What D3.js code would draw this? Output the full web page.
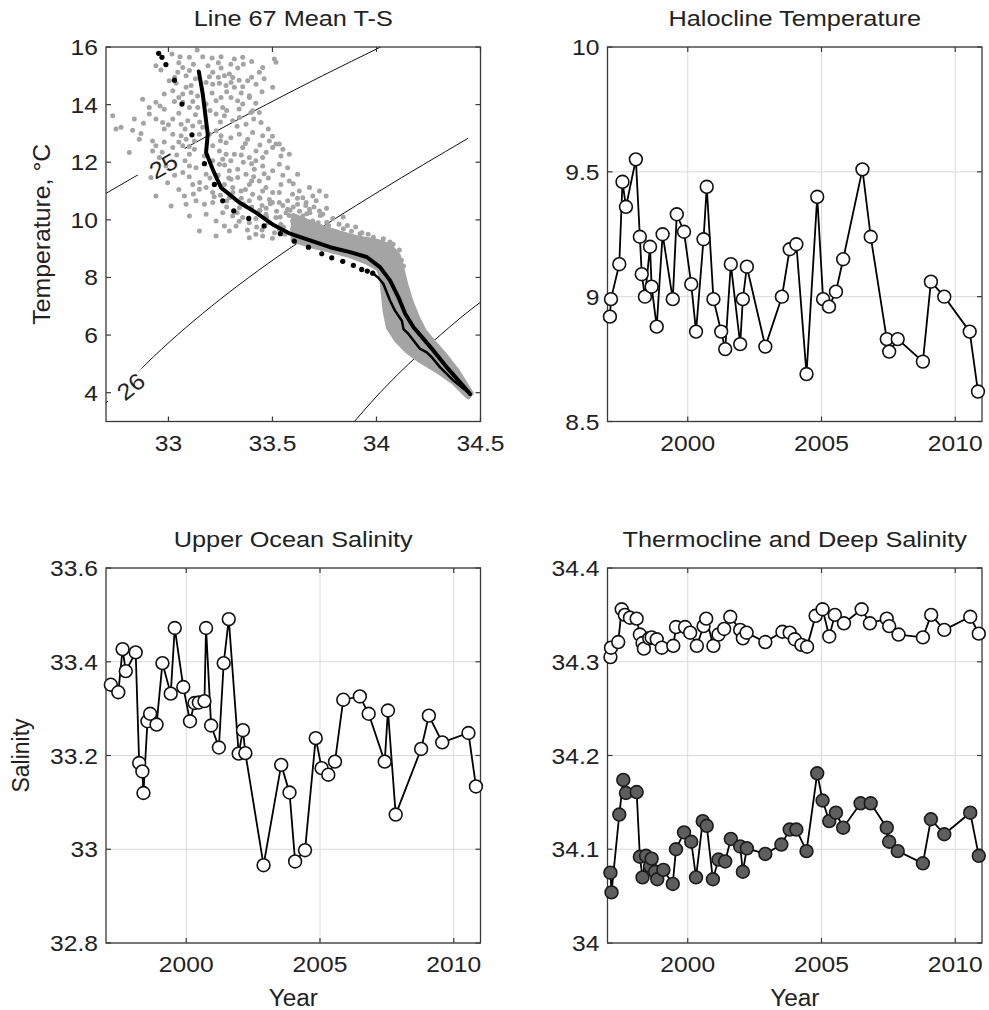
<!DOCTYPE html>
<html>
<head>
<meta charset="utf-8">
<script src="https://cdn.jsdelivr.net/npm/d3@7/dist/d3.min.js"></script>
<style>
  body { margin: 0; background: #fff; }
  text { font-family: "Liberation Sans", Arial, Helvetica, sans-serif; fill: #222; }
</style>
</head>
<body>
<div id="vis"></div>
<script>
// ---- T-S panel data (salinity, temperature) ----
var tsSalTicks = [33, 33.5, 34, 34.5];
var tsTempTicks = [4, 6, 8, 10, 12, 14, 16];

// sigma-t isopycnals
var iso25 = [[32.70,10.92],[32.96,12.0],[33.21,13.0],[33.47,14.0],[33.74,15.0],[34.02,16.0]];
var iso26 = [[32.70,3.65],[32.76,4.0],[32.893,5.0],[33.207,7.0],[33.581,9.0],[34.015,11.0],[34.44,12.83]];
var iso27 = [[33.894,3.0],[34.017,4.0],[34.155,5.0],[34.307,6.0],[34.474,7.0],[34.50,7.14]];
var isoLabels = [
  {text: '25', s: 32.976, t: 11.88, line: iso25},
  {text: '26', s: 32.819, t: 4.22, line: iso26}
];

// mean T-S curve
var meanTS = [[33.146,15.15],[33.165,14.37],[33.181,13.44],[33.189,12.97],[33.181,12.34],[33.216,11.70],
  [33.253,11.12],[33.341,10.60],[33.421,10.25],[33.501,9.84],[33.585,9.52],[33.681,9.29],[33.777,9.05],
  [33.873,8.88],[33.953,8.71],[34.017,8.36],[34.065,7.90],[34.105,7.32],[34.138,6.74],[34.178,6.27],
  [34.226,5.87],[34.274,5.46],[34.338,4.88],[34.402,4.36],[34.45,3.95]];

// single profile: sparse upper samples, then dense deep part
var profDots = [[32.953,15.78],[32.969,15.64],[32.988,15.39],[33.029,14.85],[33.065,14.02],[33.113,12.95],
  [33.173,11.95],[33.221,11.23],[33.261,10.66],[33.314,10.31],[33.386,10.05],[33.46,9.79],[33.538,9.52],
  [33.605,9.26],[33.673,9.05],[33.737,8.82],[33.785,8.68],[33.838,8.56],[33.889,8.42],[33.929,8.28],
  [33.956,8.22],[33.982,8.15]];
var profDeep = [[33.982,8.15],[34.009,7.99],[34.033,7.78],[34.065,7.20],[34.089,6.85],[34.122,6.5],
  [34.13,6.21],[34.154,6.04],[34.178,5.81],[34.21,5.52],[34.242,5.40],[34.266,5.23],[34.306,4.88],
  [34.37,4.42],[34.45,3.95]];

// outline of the dense grey band of all samples
var bandUpper = [[33.60,10.15],[33.649,10.00],[33.745,9.72],[33.825,9.54],[33.905,9.38],[34.001,9.26],
  [34.065,9.10],[34.105,8.76],[34.125,8.24],[34.140,7.78],[34.164,7.20],[34.196,6.62],[34.228,6.16],
  [34.268,5.81],[34.324,5.35],[34.388,4.76],[34.455,3.98]];
var bandLower = [[34.44,3.86],[34.37,4.36],[34.29,4.77],[34.21,5.11],[34.146,5.46],[34.098,5.81],
  [34.057,6.27],[34.041,6.85],[34.033,7.43],[34.025,8.01],[34.009,8.30],[33.953,8.53],[33.873,8.76],
  [33.777,8.94],[33.681,9.11],[33.60,9.30]];

// scattered grey samples
var cloud = [
[33.017,15.76],[33.056,15.66],[33.138,15.90],[33.210,15.62],[33.253,15.66],[33.317,15.58],[33.357,15.64],[33.509,15.58],[33.517,15.47],[33.101,15.64],[33.165,15.66],
[32.940,15.35],[32.964,15.20],[33.069,15.29],[33.045,15.12],[33.253,15.27],[33.213,15.12],[33.269,15.00],[33.293,15.06],[33.333,15.27],[33.309,14.94],[33.437,15.12],[33.453,15.29],[33.197,14.97],[33.101,15.18],[33.085,15.00],
[33.004,14.83],[33.037,14.74],[33.085,14.60],[33.109,14.66],[33.181,14.77],[33.213,14.71],[33.245,14.74],[33.277,14.66],[33.301,14.77],[33.317,14.60],[33.357,14.62],[33.389,14.31],[33.381,14.83],[33.421,14.71],[33.501,14.60],[33.109,14.42],[33.069,14.37],[32.980,14.37],[33.021,14.48],
[32.876,14.19],[32.940,14.08],[33.029,14.11],[33.069,14.08],[33.117,14.11],[33.101,13.90],[33.141,13.90],[33.181,14.02],[33.229,14.13],[33.261,13.90],[33.301,14.25],[33.333,14.13],[33.357,14.02],[33.389,14.25],[33.253,14.25],[33.405,13.79],[33.437,13.73],[32.980,13.84],[32.908,13.90],
[32.732,13.61],[32.772,13.21],[32.828,13.11],[32.868,13.00],[32.836,13.50],[32.908,13.67],[32.940,13.50],[32.972,13.38],[33.021,13.50],[33.061,13.32],[33.093,13.44],[33.117,13.26],[33.229,13.67],[33.269,13.61],[33.309,13.44],[33.341,13.55],[33.373,13.32],[33.397,13.73],[33.445,13.38],[32.980,13.15],
[32.748,13.15],[32.924,12.74],[32.940,12.57],[33.021,12.97],[33.061,12.92],[33.085,12.80],[33.125,12.74],[33.149,12.97],[33.229,13.09],[33.253,12.92],[33.277,12.68],[33.341,12.97],[33.381,12.80],[33.405,13.03],[33.453,12.92],[33.485,12.74],[33.517,12.63],
[32.812,12.34],[32.924,12.39],[32.956,12.16],[33.021,12.51],[33.069,12.57],[33.101,12.28],[33.125,12.45],[33.213,12.57],[33.245,12.39],[33.277,12.28],[33.317,12.28],[33.357,12.51],[33.389,12.16],[33.421,12.39],[33.453,12.16],[33.501,12.51],[33.541,12.22],[33.533,12.63],[33.581,12.28],
[32.916,11.47],[32.988,11.87],[33.069,11.64],[33.101,11.87],[33.133,11.81],[33.181,11.58],[33.245,11.93],[33.293,11.70],[33.333,11.76],[33.373,11.58],[33.413,11.76],[33.453,11.87],[33.501,11.70],[33.533,11.93],[33.573,11.81],[33.621,11.58],
[32.940,10.83],[32.996,11.29],[33.077,10.83],[33.117,11.23],[33.149,11.06],[33.181,11.12],[33.213,10.95],[33.269,11.23],[33.309,11.12],[33.349,11.00],[33.389,11.23],[33.437,11.35],[33.469,11.12],[33.501,10.95],[33.541,11.23],[33.581,11.35],[33.629,11.00],[33.678,11.12],[33.726,11.00],
[33.013,10.48],[33.085,10.54],[33.133,10.66],[33.173,10.54],[33.213,10.60],[33.293,10.77],[33.341,10.42],[33.389,10.66],[33.437,10.77],[33.485,10.71],[33.533,10.60],[33.573,10.66],[33.621,10.54],[33.662,10.60],[33.710,10.66],[33.758,10.83],
[33.101,10.13],[33.181,10.19],[33.229,9.96],[33.261,10.25],[33.309,10.13],[33.389,9.90],[33.469,10.19],[33.517,10.08],[33.565,10.25],[33.597,9.96],[33.646,10.13],[33.694,9.96],[33.742,10.19],
[33.149,9.61],[33.229,9.44],[33.293,9.61],[33.325,9.79],[33.389,9.38],[33.453,9.44],[33.533,9.67],[33.597,9.67],[33.662,9.50],[33.710,9.61],[33.758,9.61],
[33.165,13.21],[33.197,12.97],[33.173,12.22],[33.213,12.05],[33.261,12.10],[33.301,11.41],[33.333,11.47],[33.405,10.89],[33.453,11.00],[33.533,10.95],[33.597,10.89],[33.646,10.77],[33.694,10.83],[33.573,10.37],[33.678,10.37],[33.726,10.31],[33.437,10.31],[33.357,10.08],[33.269,9.79],
[33.420,9.50],[33.500,9.36],[33.440,10.33],[33.490,10.56],[33.537,10.10],[33.585,10.33],[33.617,9.87],[33.553,9.75],[33.472,10.10],[33.424,9.75],
[33.665,10.21],[33.761,9.92],[33.841,9.69],[33.921,9.52],[33.985,9.40],[34.033,9.34],[34.065,9.23],
[33.40,10.45],[33.42,10.05],[33.45,9.65],[33.47,10.40],[33.48,9.90],[33.50,10.60],[33.51,9.55],[33.52,10.30],[33.54,9.85],[33.55,10.50],
[33.56,9.50],[33.58,10.15],[33.60,10.45],[33.61,9.60],[33.62,10.75],[33.63,10.30],[33.64,9.80],[33.66,10.50],[33.67,9.45],[33.68,10.25],
[33.69,9.70],[33.70,10.45],[33.72,9.90],[33.73,10.15],[33.74,9.55],[33.76,10.40],[33.77,9.80],[33.79,10.05],[33.80,9.60],[33.82,9.85],
[33.84,10.10],[33.86,9.80],[33.88,9.60],[33.90,9.75],[33.93,9.55],[33.96,9.50],[33.44,10.75],[33.36,10.55],[33.38,9.65],[33.34,9.95],
[33.25,10.85],[33.28,10.45],[33.31,10.95],[33.35,10.75],[33.37,11.05],[33.41,11.50],[33.29,11.45],[33.24,11.55],[33.36,12.00],[33.42,12.05],
[33.48,11.45],[33.30,12.05],[34.08,9.15],[34.11,8.95],[34.12,8.60],[34.13,8.40],
[33.05,15.45],[33.12,15.40],[33.19,15.35],[33.24,15.45],[33.30,15.40],[33.36,15.40],[33.40,15.50],
[33.03,14.95],[33.13,14.90],[33.24,14.95],[33.34,14.85],[33.40,14.95],[33.46,14.90],
[33.05,14.25],[33.14,14.30],[33.21,14.40],[33.28,14.45],[33.35,14.40],[33.45,14.45],
[32.96,13.95],[33.05,13.70],[33.13,13.65],[33.20,13.80],[33.28,13.80],[33.34,13.85],[33.42,14.05],
[32.88,13.35],[33.00,13.30],[33.08,13.15],[33.15,13.40],[33.25,13.40],[33.33,13.25],[33.41,13.50],[33.48,13.15],
[32.86,12.80],[32.98,12.70],[33.05,12.70],[33.10,12.55],[33.25,12.75],[33.30,12.85],[33.37,12.65],[33.44,12.60],[33.50,12.90],
[32.97,12.35],[33.04,12.25],[33.08,12.05],[33.27,11.90],[33.35,12.25],[33.40,11.95],[33.47,12.35],[33.55,12.45],
[33.03,11.55],[33.10,11.50],[33.15,11.30],[33.20,11.45],[33.40,11.35],[33.46,11.60],[33.55,11.55],[33.60,11.25],
[33.05,11.05],[33.12,10.90],[33.22,10.80],[33.28,10.65],[33.33,10.25],[33.45,10.50]
];

// ---- Halocline temperature ----
var haloYears = [1997.09,1997.13,1997.44,1997.56,1997.69,1998.06,1998.21,1998.28,1998.40,1998.59,1998.65,1998.84,
  1999.06,1999.44,1999.59,1999.86,2000.13,2000.31,2000.59,2000.71,2000.96,2001.25,2001.40,2001.61,2001.96,
  2002.06,2002.21,2002.90,2003.52,2003.81,2004.06,2004.44,2004.84,2005.06,2005.28,2005.54,2005.81,2006.53,
  2006.84,2007.44,2007.53,2007.85,2008.79,2009.09,2009.59,2010.54,2010.85];
var haloTemp = [8.92,8.99,9.13,9.46,9.36,9.55,9.24,9.09,9.00,9.20,9.04,8.88,9.25,8.99,9.33,9.26,9.05,8.86,9.23,
  9.44,8.99,8.86,8.79,9.13,8.81,8.99,9.12,8.80,9.00,9.19,9.21,8.69,9.40,8.99,8.96,9.02,9.15,9.51,9.24,8.83,
  8.78,8.83,8.74,9.06,9.00,8.86,8.62];
var haloTicks = [8.5, 9, 9.5, 10];

// ---- Upper ocean salinity ----
var upperYears = [1997.18,1997.46,1997.62,1997.74,1998.11,1998.24,1998.36,1998.40,1998.55,1998.65,1998.89,
  1999.11,1999.42,1999.57,1999.89,2000.14,2000.31,2000.47,2000.68,2000.74,2000.93,2001.22,2001.40,2001.59,
  2001.96,2002.12,2002.21,2002.89,2003.55,2003.86,2004.07,2004.44,2004.84,2005.06,2005.31,2005.56,2005.87,
  2006.49,2006.82,2007.42,2007.54,2007.83,2008.78,2009.07,2009.57,2010.55,2010.83];
var upperSal = [33.351,33.335,33.427,33.380,33.420,33.184,33.166,33.120,33.273,33.289,33.266,33.397,33.332,
  33.472,33.346,33.273,33.312,33.313,33.316,33.472,33.264,33.217,33.397,33.491,33.204,33.254,33.205,32.966,
  33.180,33.121,32.974,32.998,33.237,33.173,33.159,33.187,33.319,33.326,33.289,33.187,33.296,33.074,33.214,
  33.285,33.228,33.248,33.134];
var upperTicks = [32.8, 33, 33.2, 33.4, 33.6];

// ---- Thermocline (open) and deep (filled) salinity ----
var thermoYears = [1997.11,1997.13,1997.40,1997.53,1997.65,1997.84,1998.09,1998.21,1998.31,1998.36,1998.56,
  1998.65,1998.84,1999.03,1999.46,1999.56,1999.90,2000.09,2000.34,2000.59,2000.69,2000.96,2001.15,2001.36,
  2001.59,2001.96,2002.06,2002.20,2002.90,2003.54,2003.81,2004.00,2004.25,2004.46,2004.78,2005.04,2005.29,
  2005.50,2005.84,2006.50,2006.81,2007.44,2007.53,2007.88,2008.79,2009.10,2009.59,2010.56,2010.88];
var thermoSal = [34.305,34.315,34.321,34.356,34.350,34.347,34.346,34.329,34.320,34.314,34.325,34.326,34.324,
  34.315,34.317,34.337,34.337,34.331,34.317,34.338,34.346,34.317,34.329,34.335,34.348,34.334,34.325,34.331,
  34.321,34.332,34.331,34.324,34.318,34.316,34.349,34.356,34.327,34.350,34.341,34.356,34.341,34.346,34.338,
  34.329,34.326,34.350,34.334,34.348,34.330];
var deepYears = [1997.11,1997.15,1997.44,1997.59,1997.69,1998.09,1998.21,1998.31,1998.44,1998.59,1998.65,
  1998.78,1998.86,1999.09,1999.44,1999.56,1999.86,2000.13,2000.31,2000.56,2000.71,2000.94,2001.15,2001.40,
  2001.61,2001.96,2002.06,2002.21,2002.90,2003.50,2003.81,2004.06,2004.44,2004.84,2005.04,2005.29,2005.54,
  2005.81,2006.46,2006.84,2007.44,2007.53,2007.85,2008.79,2009.09,2009.59,2010.56,2010.88];
var deepSal = [34.075,34.054,34.137,34.174,34.160,34.161,34.092,34.070,34.093,34.082,34.090,34.076,34.068,
  34.078,34.063,34.100,34.118,34.108,34.070,34.130,34.125,34.068,34.089,34.087,34.111,34.103,34.076,34.101,
  34.095,34.105,34.121,34.121,34.098,34.181,34.152,34.130,34.139,34.123,34.149,34.149,34.123,34.108,34.098,
  34.085,34.132,34.116,34.139,34.093];
var deepTicks = [34, 34.1, 34.2, 34.3, 34.4];

var yearTicks = [2000, 2005, 2010];

// ---- layout ----
var width = 989, height = 1010;
var panels = {
  ts:    {x0: 106,   x1: 480.5, y0: 47,  y1: 421.5},
  halo:  {x0: 607.5, x1: 982,   y0: 47,  y1: 421.5},
  upper: {x0: 106,   x1: 480.5, y0: 568, y1: 943},
  deep:  {x0: 607.5, x1: 982,   y0: 568, y1: 943}
};

var svg = d3.select('#vis')
  .append('svg')
    .attr('width', width)
    .attr('height', height)
    .style('background', '#fff');

// text with a slight horizontal stretch, like the original's wide font
function label(g, x, y, s, size, anchor, sx, rot) {
  return g.append('text')
    .attr('transform', 'translate(' + x + ',' + y + ')' + (rot ? ' rotate(' + rot + ')' : '') + ' scale(' + sx + ',1)')
    .attr('text-anchor', anchor)
    .style('font-size', size + 'px')
    .text(s);
}

function axes(p, x, y, xTicks, yTicks, grid) {
  var g = svg.append('g');
  if (grid) {
    g.selectAll('.gx').data(xTicks).enter().append('line')
      .attr('x1', function(d) { return x(d); }).attr('x2', function(d) { return x(d); })
      .attr('y1', p.y0).attr('y2', p.y1)
      .style('stroke', '#dadada').style('stroke-width', 1);
    g.selectAll('.gy').data(yTicks).enter().append('line')
      .attr('x1', p.x0).attr('x2', p.x1)
      .attr('y1', function(d) { return y(d); }).attr('y2', function(d) { return y(d); })
      .style('stroke', '#dadada').style('stroke-width', 1);
  }
  g.append('rect')
    .attr('x', p.x0).attr('y', p.y0)
    .attr('width', p.x1 - p.x0).attr('height', p.y1 - p.y0)
    .style('fill', 'none').style('stroke', '#3a3a3a').style('stroke-width', 1.3);
  var tl = 5;
  xTicks.forEach(function(d) {
    g.append('line').attr('x1', x(d)).attr('x2', x(d)).attr('y1', p.y1).attr('y2', p.y1 - tl)
      .style('stroke', '#3a3a3a').style('stroke-width', 1.2);
    g.append('line').attr('x1', x(d)).attr('x2', x(d)).attr('y1', p.y0).attr('y2', p.y0 + tl)
      .style('stroke', '#3a3a3a').style('stroke-width', 1.2);
    label(g, x(d), p.y1 + 29, String(d), 22, 'middle', 1.12);
  });
  yTicks.forEach(function(d) {
    g.append('line').attr('x1', p.x0).attr('x2', p.x0 + tl).attr('y1', y(d)).attr('y2', y(d))
      .style('stroke', '#3a3a3a').style('stroke-width', 1.2);
    g.append('line').attr('x1', p.x1).attr('x2', p.x1 - tl).attr('y1', y(d)).attr('y2', y(d))
      .style('stroke', '#3a3a3a').style('stroke-width', 1.2);
    label(g, p.x0 - 8, y(d) + 8, String(d), 22, 'end', 1.12);
  });
  return g;
}

function title(p, s) {
  label(svg, (p.x0 + p.x1) / 2, p.y0 - 21, s, 22, 'middle', 1.15);
}

// ================= T-S panel =================
var pT = panels.ts;
var tsX = d3.scaleLinear().domain([32.7, 34.5]).range([pT.x0, pT.x1]);
var tsY = d3.scaleLinear().domain([3, 16]).range([pT.y1, pT.y0]);

svg.append('clipPath').attr('id', 'tsclip')
  .append('rect').attr('x', pT.x0).attr('y', pT.y0)
  .attr('width', pT.x1 - pT.x0).attr('height', pT.y1 - pT.y0);

var tsG = svg.append('g').attr('clip-path', 'url(#tsclip)');
var tsLine = d3.line().x(function(d) { return tsX(d[0]); }).y(function(d) { return tsY(d[1]); });

[iso25, iso26, iso27].forEach(function(c) {
  tsG.append('path').attr('d', tsLine.curve(d3.curveMonotoneY)(c))
    .style('fill', 'none').style('stroke', '#111').style('stroke-width', 1);
});
tsLine.curve(d3.curveLinear);

// break the contour lines where the labels sit
isoLabels.forEach(function(l) {
  var a = l.line[0], b = l.line[1];
  var ang = Math.atan2(tsY(b[1]) - tsY(a[1]), tsX(b[0]) - tsX(a[0])) * 180 / Math.PI;
  l.angle = ang;
  tsG.append('rect')
    .attr('x', -27).attr('y', -7).attr('width', 54).attr('height', 14)
    .attr('transform', 'translate(' + tsX(l.s) + ',' + tsY(l.t) + ') rotate(' + ang + ')')
    .style('fill', '#fff');
});

var grey = '#a4a4a4';
tsG.append('path')
  .attr('d', tsLine(bandUpper.concat(bandLower)) + 'Z')
  .style('fill', grey).style('stroke', grey).style('stroke-width', 5)
  .style('stroke-linejoin', 'round');

tsG.selectAll('.cloud').data(cloud).enter().append('circle')
  .attr('cx', function(d) { return tsX(d[0]); })
  .attr('cy', function(d) { return tsY(d[1]); })
  .attr('r', 2.5)
  .style('fill', grey);

tsG.selectAll('.prof').data(profDots).enter().append('circle')
  .attr('cx', function(d) { return tsX(d[0]); })
  .attr('cy', function(d) { return tsY(d[1]); })
  .attr('r', 2.6)
  .style('fill', '#000');

tsG.append('path').attr('d', tsLine(profDeep))
  .style('fill', 'none').style('stroke', '#000').style('stroke-width', 2.5)
  .style('stroke-linejoin', 'round');

tsG.append('path').attr('d', tsLine(meanTS))
  .style('fill', 'none').style('stroke', '#000').style('stroke-width', 4)
  .style('stroke-linejoin', 'round').style('stroke-linecap', 'round');

isoLabels.forEach(function(l) {
  label(tsG, tsX(l.s), tsY(l.t), l.text, 23, 'middle', 1.1, l.angle)
    .attr('dy', '0.36em');
});

axes(pT, tsX, tsY, tsSalTicks, tsTempTicks, false);
title(pT, 'Line 67 Mean T-S');
label(svg, 50, (pT.y0 + pT.y1) / 2, 'Temperature, \u00b0C', 23, 'middle', 1.08, -90);

// ================= time series panels =================
function series(g, x, y, years, vals, fill, stroke) {
  var pts = years.map(function(t, i) { return [t, vals[i]]; });
  g.append('path')
    .attr('d', d3.line().x(function(d) { return x(d[0]); }).y(function(d) { return y(d[1]); })(pts))
    .style('fill', 'none').style('stroke', '#000').style('stroke-width', 1.8);
  g.selectAll(null).data(pts).enter().append('circle')
    .attr('cx', function(d) { return x(d[0]); })
    .attr('cy', function(d) { return y(d[1]); })
    .attr('r', 6.4)
    .style('fill', fill).style('stroke', stroke).style('stroke-width', 1.6);
}

var pH = panels.halo;
var hX = d3.scaleLinear().domain([1997, 2011]).range([pH.x0, pH.x1]);
var hY = d3.scaleLinear().domain([8.5, 10]).range([pH.y1, pH.y0]);
axes(pH, hX, hY, yearTicks, haloTicks, true);
series(svg.append('g'), hX, hY, haloYears, haloTemp, '#fff', '#111');
title(pH, 'Halocline Temperature');

var pU = panels.upper;
var uX = d3.scaleLinear().domain([1997, 2011]).range([pU.x0, pU.x1]);
var uY = d3.scaleLinear().domain([32.8, 33.6]).range([pU.y1, pU.y0]);
axes(pU, uX, uY, yearTicks, upperTicks, true);
series(svg.append('g'), uX, uY, upperYears, upperSal, '#fff', '#111');
title(pU, 'Upper Ocean Salinity');
label(svg, 28.5, (pU.y0 + pU.y1) / 2, 'Salinity', 23, 'middle', 1.0, -90);
label(svg, (pU.x0 + pU.x1) / 2, 1006, 'Year', 23, 'middle', 1.06);

var pD = panels.deep;
var dX = d3.scaleLinear().domain([1997, 2011]).range([pD.x0, pD.x1]);
var dY = d3.scaleLinear().domain([34, 34.4]).range([pD.y1, pD.y0]);
axes(pD, dX, dY, yearTicks, deepTicks, true);
var dG = svg.append('g');
series(dG, dX, dY, thermoYears, thermoSal, '#fff', '#111');
series(dG, dX, dY, deepYears, deepSal, '#5e5e5e', '#1a1a1a');
title(pD, 'Thermocline and Deep Salinity');
label(svg, (pD.x0 + pD.x1) / 2, 1006, 'Year', 23, 'middle', 1.06);
</script>
</body>
</html>
